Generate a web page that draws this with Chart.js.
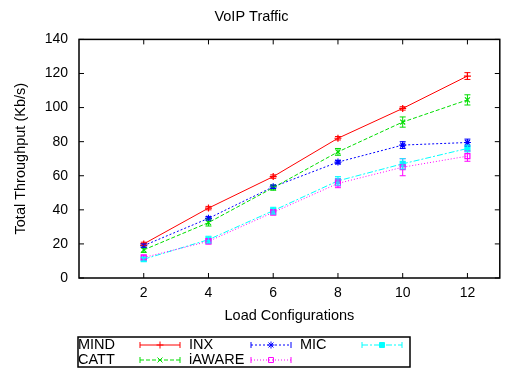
<!DOCTYPE html>
<html><head><meta charset="utf-8">
<script src="https://cdn.jsdelivr.net/npm/chart.js@4.4.1/dist/chart.umd.min.js"></script>
<style>html,body{margin:0;padding:0;background:#fff}#wrap{width:505px;height:369px}</style>
</head><body><div id="wrap"><canvas id="c" width="505" height="369"></canvas></div>
<script>
const loads = [2, 4, 6, 8, 10, 12];
const xTicks = [2, 4, 6, 8, 10, 12];
const yTicks = [0, 20, 40, 60, 80, 100, 120, 140];
const mind   = [20, 41, 59.5, 82, 99.5, 118.5];
const catt   = [16.5, 32.5, 53, 74, 91.5, 104.5];
const inx    = [19, 35, 53.5, 68, 78, 79.5];
const iaware = [12, 21.5, 38.5, 55.5, 65, 71.5];
const mic    = [11, 22.5, 39.5, 57, 67, 76];
const mindErr   = [1, 1, 1, 1, 1, 2];
const cattErr   = [1.5, 2, 1.5, 2, 3, 3];
const inxErr    = [1, 1, 1, 1, 2, 2];
const iawareErr = [1.5, 1.5, 1.5, 2.5, 5, 3];
const micErr    = [1, 2, 2, 2.5, 3, 2];

const FONT = '"Liberation Sans", Arial, Helvetica, sans-serif';
function pts(vals){ return loads.map((x,i)=>({x:x, y:vals[i]})); }
function ds(label, vals, err, color, dash, style, fill){
  return {label, data: pts(vals), err, borderColor: color, backgroundColor: fill ? color : 'rgba(0,0,0,0)',
    borderWidth: 1, borderDash: dash, pointStyle: style, pointRadius: 3.5, pointBorderWidth: 1.2,
    pointBorderColor: color, pointBackgroundColor: fill ? color : 'rgba(0,0,0,0)', tension: 0, fill: false};
}
const datasets = [
  ds('MIND', mind, mindErr, '#ff0000', [], 'cross', false),
  ds('CATT', catt, cattErr, '#00dd00', [4,2], 'crossRot', false),
  ds('INX', inx, inxErr, '#0000ff', [2,2], 'star', false),
  ds('iAWARE', iaware, iawareErr, '#ff00ff', [1,2], 'rect', false),
  ds('MIC', mic, micErr, '#00ffff', [6,2,2,2], 'rect', true)
];

const deco = {
  id: 'deco',
  afterDatasetsDraw(chart){
    const ctx = chart.ctx, xs = chart.scales.x, ys = chart.scales.y;
    chart.data.datasets.forEach(d=>{
      ctx.save(); ctx.strokeStyle = d.borderColor; ctx.lineWidth = 1; ctx.setLineDash([]);
      d.data.forEach((p,i)=>{
        const e = d.err[i]; const x = xs.getPixelForValue(p.x);
        const y1 = ys.getPixelForValue(p.y - e), y2 = ys.getPixelForValue(p.y + e);
        ctx.beginPath(); ctx.moveTo(x, y1); ctx.lineTo(x, y2);
        ctx.moveTo(x-3, y1); ctx.lineTo(x+3, y1); ctx.moveTo(x-3, y2); ctx.lineTo(x+3, y2); ctx.stroke();
      });
      ctx.restore();
    });
    const a = chart.chartArea;
    ctx.save(); ctx.strokeStyle = '#000'; ctx.lineWidth = 1.5; ctx.setLineDash([]);
    ctx.strokeRect(a.left, a.top, a.right - a.left, a.bottom - a.top);
    ctx.lineWidth = 1;
    ctx.beginPath();
    yTicks.forEach(v=>{ const y = ys.getPixelForValue(v);
      ctx.moveTo(a.left, y); ctx.lineTo(a.left+5, y); ctx.moveTo(a.right, y); ctx.lineTo(a.right-5, y); });
    xTicks.forEach(v=>{ const x = xs.getPixelForValue(v);
      ctx.moveTo(x, a.bottom); ctx.lineTo(x, a.bottom-5); ctx.moveTo(x, a.top); ctx.lineTo(x, a.top+5); });
    ctx.stroke();
    const bx = 78, by = 337, bw = 332, bh = 30;
    ctx.lineWidth = 1.5; ctx.strokeRect(bx, by, bw, bh);
    ctx.font = '14.5px ' + FONT; ctx.fillStyle = '#000'; ctx.textBaseline = 'middle'; ctx.textAlign = 'left';
    chart.data.datasets.forEach((d,i)=>{
      const col = Math.floor(i/2), row = i%2;
      const tx = 78 + col*111, ty = 345 + row*15;
      ctx.fillStyle = '#000'; ctx.fillText(d.label, tx, ty);
      const sx1 = tx + 62, sx2 = tx + 102;
      ctx.strokeStyle = d.borderColor; ctx.lineWidth = 1;
      ctx.setLineDash(d.borderDash); ctx.beginPath(); ctx.moveTo(sx1, ty); ctx.lineTo(sx2, ty); ctx.stroke();
      ctx.setLineDash([]); ctx.beginPath();
      ctx.moveTo(sx1, ty-3); ctx.lineTo(sx1, ty+3); ctx.moveTo(sx2, ty-3); ctx.lineTo(sx2, ty+3); ctx.stroke();
      ctx.fillStyle = d.pointBackgroundColor;
      Chart.helpers.drawPoint(ctx, {pointStyle: d.pointStyle, radius: 3.5, rotation: 0, borderWidth: 1.2}, (sx1+sx2)/2, ty);
    });
    ctx.restore();
  }
};

new Chart(document.getElementById('c'), {
  type: 'line',
  data: { datasets },
  plugins: [deco],
  options: {
    responsive: false, animation: false,
    layout: { padding: { left: 0, right: 2, top: 0, bottom: 40 } },
    plugins: {
      legend: { display: false }, tooltip: { enabled: false },
      title: { display: true, text: 'VoIP Traffic', color: '#000', font: { family: FONT, size: 14.5, weight: 'normal' }, padding: { top: 8, bottom: 14 } }
    },
    scales: {
      x: { type: 'linear', min: 0, max: 13,
        afterBuildTicks: s => { s.ticks = xTicks.map(v=>({value:v})); },
        afterFit: s => { s.height = 51; },
        grid: { display: false, drawTicks: false }, border: { display: false },
        ticks: { color: '#000', padding: 7, font: { family: FONT, size: 14 }, maxRotation: 0 },
        title: { display: true, text: 'Load Configurations', color: '#000', font: { family: FONT, size: 14.5 }, padding: { top: 0, bottom: 4 } }
      },
      y: { type: 'linear', min: 0, max: 140,
        afterBuildTicks: s => { s.ticks = yTicks.map(v=>({value:v})); },
        afterFit: s => { s.width = 79; },
        grid: { display: false, drawTicks: false }, border: { display: false },
        ticks: { color: '#000', padding: 11, font: { family: FONT, size: 14 } },
        title: { display: true, text: 'Total Throughput (Kb/s)', color: '#000', font: { family: FONT, size: 14.5 }, padding: { top: 12, bottom: 0 } }
      }
    }
  }
});
</script></body></html>
